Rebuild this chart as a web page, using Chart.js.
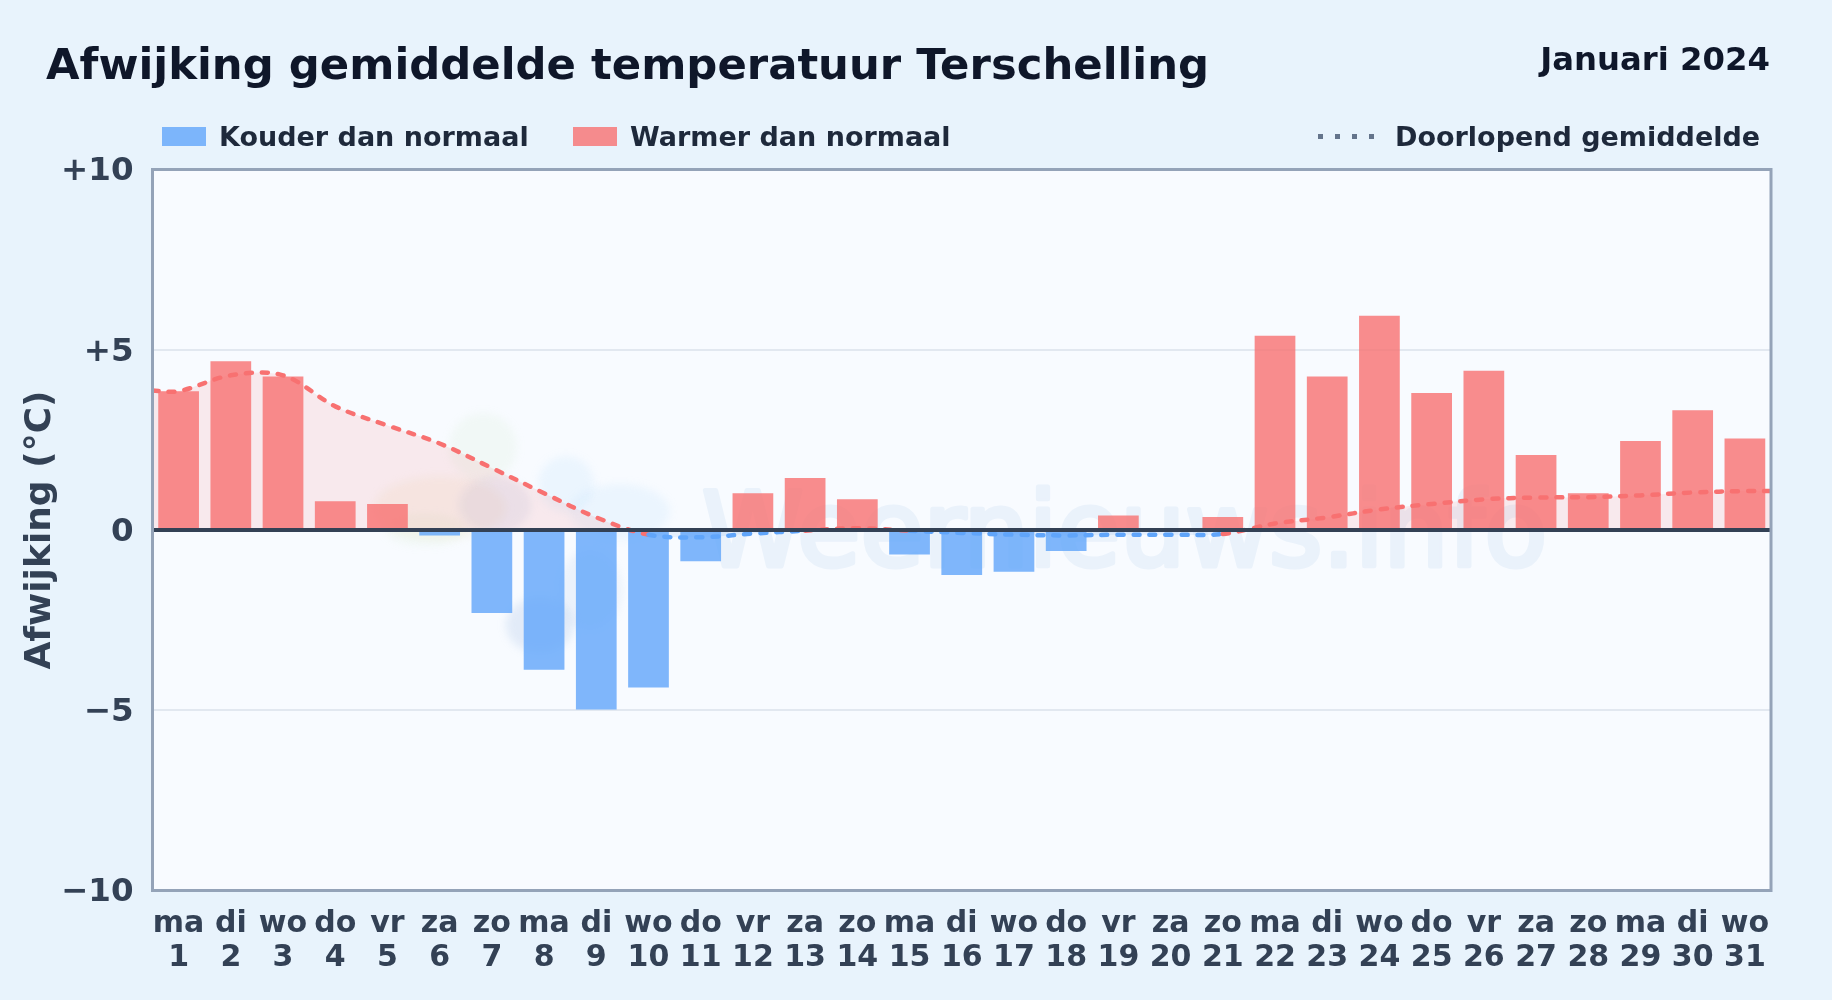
<!DOCTYPE html>
<html lang="nl">
<head>
<meta charset="utf-8">
<title>Afwijking gemiddelde temperatuur Terschelling</title>
<script src="https://cdn.jsdelivr.net/npm/chart.js@4"></script>
<style>
  html, body { margin: 0; padding: 0; }
  body { width: 1832px; height: 1000px; background: #e8f3fc; position: relative; overflow: hidden;
         font-family: "DejaVu Sans", sans-serif; font-weight: bold; }
  canvas { position: absolute; left: 0; top: 0; }
  .txt { position: absolute; white-space: nowrap; line-height: 1; }
  #title { left: 46px; top: 43px; font-size: 43.35px; color: #0f172a; }
  #month { right: 62px; top: 43px; font-size: 32.3px; color: #0f172a; }
  .leg { top: 123px; font-size: 27px; color: #1e293b; }
  .swatch { position: absolute; top: 127px; width: 44px; height: 19px; }
  #dots { position: absolute; left: 1318px; top: 134px; width: 56px; height: 5px;
          background: repeating-linear-gradient(90deg, #64748b 0 5px, transparent 5px 17px); }
</style>
</head>
<body>
<canvas id="myChart" width="1832" height="1000"></canvas>
<div class="txt" id="title">Afwijking gemiddelde temperatuur Terschelling</div>
<div class="txt" id="month">Januari 2024</div>
<div class="swatch" style="left:162px;background:rgba(96,165,250,0.8)"></div>
<div class="txt leg" style="left:219px">Kouder dan normaal</div>
<div class="swatch" style="left:573px;background:rgba(248,113,113,0.8)"></div>
<div class="txt leg" style="left:630px">Warmer dan normaal</div>
<div id="dots"></div>
<div class="txt leg" style="left:1395px">Doorlopend gemiddelde</div>
<script>
const dayNames = ['ma','di','wo','do','vr','za','zo','ma','di','wo','do','vr','za','zo','ma','di','wo','do','vr','za','zo','ma','di','wo','do','vr','za','zo','ma','di','wo'];
const dayNumbers = [1,2,3,4,5,6,7,8,9,10,11,12,13,14,15,16,17,18,19,20,21,22,23,24,25,26,27,28,29,30,31];
const deviation = [3.85,4.68,4.26,0.8,0.72,-0.15,-2.3,-3.88,-4.98,-4.37,-0.87,1.02,1.44,0.85,-0.68,-1.25,-1.16,-0.58,0.4,0,0.36,5.39,4.26,5.94,3.8,4.42,2.08,1.02,2.47,3.32,2.54];
const runningMean = [3.85,4.29,4.29,3.43,2.9,2.4,1.72,1.02,0.35,-0.13,-0.2,-0.1,-0.02,0.05,-0.02,-0.08,-0.13,-0.15,-0.13,-0.13,-0.11,0.18,0.35,0.57,0.72,0.85,0.9,0.91,0.96,1.04,1.08];
const lineStart = 3.87;
const lineEnd = 1.08;
const yTickLabels = {'10':'+10','5':'+5','0':'0','-5':'\u22125','-10':'\u221210'};

const RED = '#f87171', BLUE = '#60a5fa';

// line runs on to the frame on both sides, so it gets its own hidden x axis
const linePoints = [{x: 0.5, y: lineStart}]
  .concat(runningMean.map((v, i) => ({x: dayNumbers[i], y: v})))
  .concat([{x: 31.5, y: lineEnd}]);

const plotDecor = {
  id: 'plotDecor',
  beforeDraw(chart) {
    const c = chart.ctx, a = chart.chartArea;
    c.save();
    c.fillStyle = '#f8fbff';
    c.fillRect(a.left, a.top, a.width, a.height);
    // faint logo behind the plot
    c.filter = 'blur(4px)';
    const blob = (x, y, rx, ry, col) => {
      c.fillStyle = col;
      c.beginPath();
      c.ellipse(x, y, rx, ry, 0, 0, Math.PI * 2);
      c.fill();
    };
    blob(483, 447, 34, 34, 'rgba(190,225,170,0.10)');
    blob(440, 508, 66, 32, 'rgba(235,215,170,0.16)');
    blob(425, 530, 40, 16, 'rgba(190,225,170,0.10)');
    blob(566, 484, 28, 28, 'rgba(150,205,250,0.12)');
    blob(620, 512, 50, 28, 'rgba(150,205,250,0.12)');
    blob(495, 505, 36, 28, 'rgba(150,170,215,0.14)');
    blob(540, 625, 34, 28, 'rgba(130,165,215,0.18)');
    blob(590, 590, 32, 40, 'rgba(130,165,215,0.10)');
    c.filter = 'none';
    c.font = '102.5px "DejaVu Sans"';
    c.fillStyle = '#eaf2fb';
    c.strokeStyle = '#eaf2fb';
    c.lineWidth = 5;
    c.lineJoin = 'round';
    c.textBaseline = 'alphabetic';
    c.strokeText('Weernieuws.info', 702, 566);
    c.fillText('Weernieuws.info', 702, 566);
    c.restore();
  },
  afterDatasetsDraw(chart) {
    const c = chart.ctx, a = chart.chartArea;
    const zero = chart.scales.y.getPixelForValue(0);
    c.save();
    c.strokeStyle = '#334155';
    c.lineWidth = 4;
    c.beginPath();
    c.moveTo(a.left, zero);
    c.lineTo(a.right, zero);
    c.stroke();
    c.strokeStyle = '#94a3b8';
    c.lineWidth = 3;
    c.strokeRect(a.left, a.top, a.width, a.height);
    c.restore();
  }
};

new Chart(document.getElementById('myChart').getContext('2d'), {
  data: {
    labels: dayNames.map((d, i) => [d, String(dayNumbers[i])]),
    datasets: [
      {
        type: 'line',
        order: 0,
        xAxisID: 'x2',
        data: linePoints,
        borderColor: RED,
        borderWidth: 4.5,
        borderCapStyle: 'round',
        borderDash: [6, 10],
        tension: 0.35,
        pointRadius: 0,
        fill: {target: 'origin', above: 'rgba(248,113,113,0.13)', below: 'rgba(96,165,250,0.13)'},
        segment: {
          borderColor: ctx => Math.max(ctx.p0.parsed.y, ctx.p1.parsed.y) >= 0 ? RED : BLUE
        }
      },
      {
        type: 'bar',
        order: 1,
        data: deviation,
        backgroundColor: ctx => ctx.raw < 0 ? 'rgba(96,165,250,0.8)' : 'rgba(248,113,113,0.8)',
        grouped: false,
        barPercentage: 0.78,
        categoryPercentage: 1
      }
    ]
  },
  options: {
    responsive: false,
    animation: false,
    layout: {padding: {top: 169.5, right: 61, left: 0, bottom: 0}},
    plugins: {
      legend: {display: false},
      tooltip: {enabled: false},
      filler: {drawTime: 'beforeDatasetsDraw'}
    },
    scales: {
      x: {
        afterFit(s) { s.height = 109.5; },
        grid: {display: false},
        border: {display: false},
        ticks: {
          color: '#334155',
          font: {family: '"DejaVu Sans"', weight: 'bold', size: 30, lineHeight: 1.13},
          autoSkip: false,
          maxRotation: 0,
          padding: 9
        }
      },
      x2: {type: 'linear', min: 0.5, max: 31.5, display: false},
      y: {
        min: -10,
        max: 10,
        afterFit(s) { s.width = 152.5; },
        grid: {color: '#e2e8f0', lineWidth: 2, drawTicks: false},
        border: {display: false},
        title: {
          display: true,
          text: 'Afwijking (\u00b0C)',
          color: '#334155',
          font: {family: '"DejaVu Sans"', weight: 'bold', size: 36},
          padding: {top: 19, bottom: 0}
        },
        ticks: {
          stepSize: 5,
          color: '#334155',
          font: {family: '"DejaVu Sans"', weight: 'bold', size: 32.5},
          padding: 19,
          labelOffset: 2.5,
          callback: v => yTickLabels[String(v)]
        }
      }
    }
  },
  plugins: [plotDecor]
});
</script>
</body>
</html>
